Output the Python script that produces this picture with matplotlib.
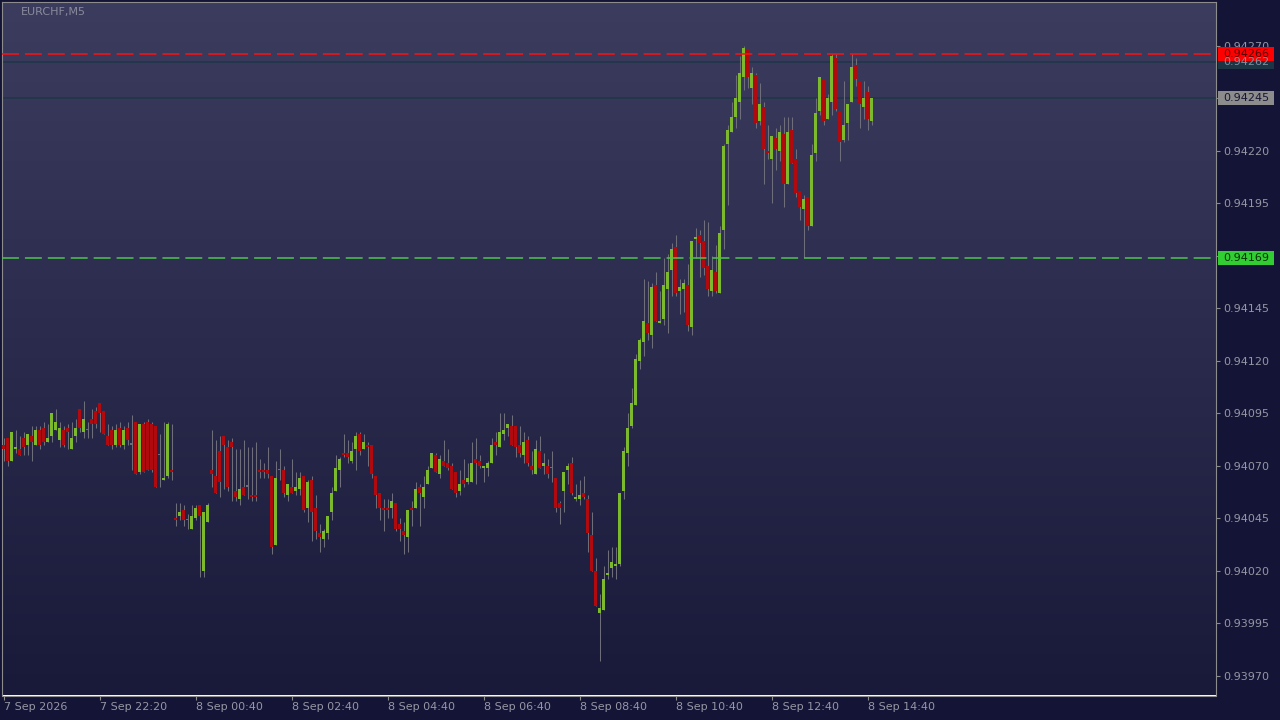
import numpy as np
import matplotlib.pyplot as plt
from matplotlib.patches import Rectangle
from matplotlib.colors import LinearSegmentedColormap
from matplotlib.transforms import blended_transform_factory

plt.rcParams['lines.scale_dashes'] = False

symbol = 'EURCHF,M5'

# M5 bars, oldest first
opens = [
    0.94080, 0.94083, 0.94072, 0.94078, 0.94078, 0.94083, 0.94080, 0.94084, 0.94080, 0.94087,
    0.94088, 0.94081, 0.94084, 0.94087, 0.94082, 0.94087, 0.94088, 0.94078, 0.94084, 0.94097,
    0.94086, 0.94087, 0.94092, 0.94096, 0.94100, 0.94096, 0.94084, 0.94087, 0.94080, 0.94088,
    0.94080, 0.94088, 0.94080, 0.94091, 0.94067, 0.94090, 0.94091, 0.94090, 0.94089, 0.94075,
    0.94063, 0.94065, 0.94068, 0.94045, 0.94046, 0.94049, 0.94044, 0.94040, 0.94045, 0.94051,
    0.94020, 0.94043, 0.94068, 0.94065, 0.94077, 0.94084, 0.94079, 0.94081, 0.94058, 0.94054,
    0.94060, 0.94060, 0.94056, 0.94056, 0.94068, 0.94068, 0.94068, 0.94065, 0.94032, 0.94068,
    0.94068, 0.94056, 0.94060, 0.94058, 0.94059, 0.94065, 0.94050, 0.94063, 0.94050, 0.94038,
    0.94035, 0.94038, 0.94048, 0.94058, 0.94068, 0.94076, 0.94076, 0.94072, 0.94078, 0.94085,
    0.94078, 0.94080, 0.94080, 0.94065, 0.94057, 0.94050, 0.94050, 0.94050, 0.94052, 0.94042,
    0.94039, 0.94036, 0.94050, 0.94050, 0.94060, 0.94055, 0.94061, 0.94069, 0.94075, 0.94066,
    0.94072, 0.94071, 0.94070, 0.94067, 0.94058, 0.94063, 0.94062, 0.94062, 0.94073, 0.94072,
    0.94069, 0.94069, 0.94071, 0.94081, 0.94079, 0.94085, 0.94088, 0.94089, 0.94089, 0.94080,
    0.94075, 0.94082, 0.94070, 0.94066, 0.94077, 0.94070, 0.94070, 0.94069, 0.94064, 0.94052,
    0.94058, 0.94068, 0.94071, 0.94054, 0.94054, 0.94057, 0.94054, 0.94037, 0.94020, 0.94000,
    0.94001, 0.94018, 0.94021, 0.94022, 0.94023, 0.94058, 0.94076, 0.94089, 0.94099, 0.94120,
    0.94129, 0.94138, 0.94132, 0.94156, 0.94138, 0.94140, 0.94154, 0.94163, 0.94174, 0.94153,
    0.94154, 0.94156, 0.94136, 0.94178, 0.94180, 0.94177, 0.94165, 0.94153, 0.94162, 0.94152,
    0.94182, 0.94223, 0.94229, 0.94236, 0.94243, 0.94255, 0.94268, 0.94250, 0.94256, 0.94234,
    0.94241, 0.94220, 0.94216, 0.94226, 0.94220, 0.94228, 0.94204, 0.94230, 0.94216, 0.94201,
    0.94192, 0.94198, 0.94184, 0.94219, 0.94239, 0.94254, 0.94235, 0.94243, 0.94264, 0.94239,
    0.94225, 0.94233, 0.94243, 0.94261, 0.94253, 0.94241, 0.94248, 0.94234,
]
highs = [
    0.94083, 0.94083, 0.94086, 0.94087, 0.94084, 0.94086, 0.94085, 0.94089, 0.94089, 0.94089,
    0.94091, 0.94090, 0.94095, 0.94097, 0.94091, 0.94089, 0.94090, 0.94091, 0.94092, 0.94097,
    0.94101, 0.94091, 0.94097, 0.94098, 0.94100, 0.94096, 0.94090, 0.94089, 0.94090, 0.94091,
    0.94089, 0.94091, 0.94094, 0.94091, 0.94090, 0.94091, 0.94092, 0.94091, 0.94089, 0.94085,
    0.94091, 0.94091, 0.94090, 0.94052, 0.94052, 0.94051, 0.94047, 0.94051, 0.94051, 0.94051,
    0.94048, 0.94052, 0.94087, 0.94082, 0.94084, 0.94084, 0.94082, 0.94083, 0.94078, 0.94078,
    0.94082, 0.94079, 0.94079, 0.94081, 0.94073, 0.94071, 0.94079, 0.94065, 0.94072, 0.94078,
    0.94070, 0.94061, 0.94073, 0.94067, 0.94067, 0.94065, 0.94063, 0.94065, 0.94056, 0.94042,
    0.94040, 0.94046, 0.94060, 0.94075, 0.94074, 0.94085, 0.94082, 0.94081, 0.94086, 0.94086,
    0.94085, 0.94081, 0.94080, 0.94065, 0.94057, 0.94054, 0.94054, 0.94057, 0.94052, 0.94045,
    0.94043, 0.94049, 0.94053, 0.94062, 0.94061, 0.94065, 0.94070, 0.94076, 0.94076, 0.94075,
    0.94082, 0.94078, 0.94071, 0.94067, 0.94068, 0.94073, 0.94071, 0.94081, 0.94083, 0.94075,
    0.94070, 0.94072, 0.94083, 0.94086, 0.94095, 0.94095, 0.94090, 0.94094, 0.94089, 0.94089,
    0.94086, 0.94084, 0.94077, 0.94082, 0.94084, 0.94076, 0.94073, 0.94077, 0.94064, 0.94053,
    0.94067, 0.94071, 0.94074, 0.94061, 0.94063, 0.94065, 0.94056, 0.94048, 0.94026, 0.94009,
    0.94022, 0.94030, 0.94031, 0.94031, 0.94057, 0.94079, 0.94095, 0.94107, 0.94123, 0.94131,
    0.94159, 0.94158, 0.94157, 0.94162, 0.94153, 0.94169, 0.94171, 0.94176, 0.94180, 0.94159,
    0.94159, 0.94166, 0.94177, 0.94183, 0.94182, 0.94187, 0.94186, 0.94170, 0.94175, 0.94184,
    0.94223, 0.94232, 0.94243, 0.94256, 0.94265, 0.94270, 0.94268, 0.94260, 0.94257, 0.94252,
    0.94243, 0.94232, 0.94227, 0.94231, 0.94232, 0.94236, 0.94236, 0.94236, 0.94221, 0.94201,
    0.94199, 0.94198, 0.94223, 0.94245, 0.94255, 0.94254, 0.94247, 0.94266, 0.94266, 0.94239,
    0.94253, 0.94242, 0.94266, 0.94264, 0.94253, 0.94253, 0.94251, 0.94245,
]
lows = [
    0.94072, 0.94070, 0.94072, 0.94076, 0.94075, 0.94075, 0.94075, 0.94072, 0.94080, 0.94078,
    0.94080, 0.94081, 0.94081, 0.94087, 0.94079, 0.94079, 0.94078, 0.94078, 0.94081, 0.94086,
    0.94083, 0.94083, 0.94083, 0.94088, 0.94086, 0.94085, 0.94080, 0.94078, 0.94079, 0.94079,
    0.94078, 0.94080, 0.94068, 0.94066, 0.94066, 0.94067, 0.94068, 0.94067, 0.94060, 0.94060,
    0.94063, 0.94064, 0.94063, 0.94041, 0.94044, 0.94041, 0.94040, 0.94040, 0.94044, 0.94017,
    0.94017, 0.94043, 0.94060, 0.94057, 0.94055, 0.94059, 0.94058, 0.94053, 0.94053, 0.94051,
    0.94056, 0.94054, 0.94053, 0.94053, 0.94064, 0.94064, 0.94064, 0.94028, 0.94032, 0.94063,
    0.94055, 0.94053, 0.94057, 0.94056, 0.94056, 0.94048, 0.94043, 0.94034, 0.94035, 0.94029,
    0.94031, 0.94035, 0.94044, 0.94058, 0.94060, 0.94074, 0.94071, 0.94071, 0.94068, 0.94075,
    0.94078, 0.94070, 0.94064, 0.94050, 0.94044, 0.94039, 0.94045, 0.94045, 0.94039, 0.94034,
    0.94028, 0.94029, 0.94041, 0.94050, 0.94041, 0.94050, 0.94061, 0.94069, 0.94067, 0.94064,
    0.94070, 0.94068, 0.94059, 0.94055, 0.94056, 0.94060, 0.94061, 0.94062, 0.94061, 0.94069,
    0.94062, 0.94065, 0.94071, 0.94075, 0.94079, 0.94082, 0.94084, 0.94080, 0.94074, 0.94074,
    0.94071, 0.94070, 0.94066, 0.94066, 0.94069, 0.94066, 0.94064, 0.94062, 0.94048, 0.94042,
    0.94048, 0.94061, 0.94056, 0.94053, 0.94051, 0.94054, 0.94029, 0.94020, 0.94003, 0.93977,
    0.94001, 0.94016, 0.94017, 0.94016, 0.94022, 0.94054, 0.94070, 0.94088, 0.94099, 0.94116,
    0.94122, 0.94130, 0.94126, 0.94139, 0.94138, 0.94137, 0.94133, 0.94151, 0.94151, 0.94142,
    0.94143, 0.94134, 0.94132, 0.94169, 0.94160, 0.94161, 0.94151, 0.94151, 0.94152, 0.94152,
    0.94173, 0.94194, 0.94229, 0.94231, 0.94235, 0.94249, 0.94250, 0.94242, 0.94231, 0.94232,
    0.94204, 0.94216, 0.94195, 0.94211, 0.94215, 0.94193, 0.94204, 0.94214, 0.94198, 0.94187,
    0.94169, 0.94182, 0.94184, 0.94215, 0.94237, 0.94232, 0.94235, 0.94237, 0.94239, 0.94215,
    0.94224, 0.94225, 0.94243, 0.94251, 0.94231, 0.94235, 0.94230, 0.94232,
]
closes = [
    0.94078, 0.94072, 0.94086, 0.94079, 0.94075, 0.94079, 0.94085, 0.94081, 0.94087, 0.94080,
    0.94081, 0.94083, 0.94095, 0.94091, 0.94088, 0.94080, 0.94086, 0.94083, 0.94088, 0.94088,
    0.94092, 0.94087, 0.94090, 0.94090, 0.94095, 0.94085, 0.94080, 0.94080, 0.94087, 0.94080,
    0.94087, 0.94082, 0.94080, 0.94066, 0.94090, 0.94067, 0.94068, 0.94068, 0.94060, 0.94075,
    0.94064, 0.94090, 0.94067, 0.94044, 0.94048, 0.94044, 0.94044, 0.94046, 0.94050, 0.94046,
    0.94048, 0.94051, 0.94066, 0.94057, 0.94062, 0.94080, 0.94060, 0.94079, 0.94055, 0.94059,
    0.94056, 0.94060, 0.94055, 0.94055, 0.94067, 0.94067, 0.94066, 0.94031, 0.94064, 0.94068,
    0.94057, 0.94061, 0.94057, 0.94060, 0.94064, 0.94049, 0.94062, 0.94048, 0.94039, 0.94036,
    0.94039, 0.94046, 0.94057, 0.94069, 0.94073, 0.94075, 0.94074, 0.94077, 0.94084, 0.94077,
    0.94081, 0.94079, 0.94066, 0.94056, 0.94050, 0.94049, 0.94049, 0.94053, 0.94040, 0.94040,
    0.94037, 0.94049, 0.94049, 0.94059, 0.94057, 0.94060, 0.94068, 0.94076, 0.94067, 0.94073,
    0.94070, 0.94069, 0.94059, 0.94057, 0.94061, 0.94061, 0.94064, 0.94071, 0.94071, 0.94070,
    0.94070, 0.94071, 0.94080, 0.94080, 0.94086, 0.94087, 0.94090, 0.94080, 0.94079, 0.94076,
    0.94081, 0.94071, 0.94068, 0.94078, 0.94069, 0.94071, 0.94066, 0.94069, 0.94050, 0.94050,
    0.94067, 0.94070, 0.94057, 0.94055, 0.94056, 0.94055, 0.94038, 0.94020, 0.94003, 0.94002,
    0.94016, 0.94019, 0.94024, 0.94023, 0.94057, 0.94077, 0.94088, 0.94100, 0.94121, 0.94130,
    0.94139, 0.94133, 0.94155, 0.94139, 0.94139, 0.94156, 0.94162, 0.94173, 0.94152, 0.94155,
    0.94157, 0.94137, 0.94177, 0.94179, 0.94176, 0.94164, 0.94154, 0.94163, 0.94153, 0.94181,
    0.94222, 0.94230, 0.94236, 0.94245, 0.94257, 0.94269, 0.94255, 0.94257, 0.94233, 0.94242,
    0.94221, 0.94219, 0.94227, 0.94221, 0.94229, 0.94204, 0.94229, 0.94214, 0.94200, 0.94193,
    0.94197, 0.94184, 0.94218, 0.94238, 0.94255, 0.94234, 0.94245, 0.94265, 0.94240, 0.94224,
    0.94232, 0.94242, 0.94260, 0.94254, 0.94242, 0.94245, 0.94235, 0.94245,
]

time_labels = ['7 Sep 2026', '7 Sep 22:20', '8 Sep 00:40', '8 Sep 02:40', '8 Sep 04:40',
               '8 Sep 06:40', '8 Sep 08:40', '8 Sep 10:40', '8 Sep 12:40', '8 Sep 14:40']
bars_per_label = 24

price_ticks = [0.93970, 0.93995, 0.94020, 0.94045, 0.94070, 0.94095, 0.94120,
               0.94145, 0.94170, 0.94195, 0.94220, 0.94245, 0.94270]

high_level = 0.94266    # red dashed line
ask_level = 0.94262
bid_level = 0.94245
low_level = 0.94169     # green dashed line

bull = '#7db92d'
bear = '#b00a0f'
wick = '#6e6e7a'
txt = '#9696a4'

o = np.array(opens)
h = np.array(highs)
l = np.array(lows)
c = np.array(closes)
x = np.arange(len(o))

fig = plt.figure(figsize=(12.8, 7.2), dpi=100, facecolor='#141436')
ax = fig.add_axes([2 / 1280, 24.5 / 720, 1214 / 1280, 693.5 / 720])

x0, x1 = -0.42, 303.08
y0, y1 = 0.939605, 0.942908

# background gradient
cmap = LinearSegmentedColormap.from_list('bg', ['#19193a', '#3c3c5f'])
grad = np.linspace(0, 1, 256).reshape(-1, 1)
ax.imshow(grad, extent=[x0, x1, y0, y1], origin='lower', aspect='auto', cmap=cmap, zorder=0)

# candles
ax.vlines(x, l, h, color=wick, lw=0.75, zorder=2)
bottoms = np.minimum(o, c)
heights = np.maximum(np.abs(c - o), 0.0000055)
cols = np.where(c > o, bull, np.where(c < o, bear, wick))
ax.bar(x, heights, bottom=bottoms, width=0.75, color=cols, linewidth=0, zorder=3)

# level lines
ax.axhline(ask_level, color='#1f3648', lw=1.1, zorder=1.5)
ax.axhline(bid_level, color='#1f3648', lw=1.1, zorder=1.5)
ax.axhline(high_level, color='#ff1010', lw=1.1, dashes=(12.2, 4.3), zorder=4)
ax.axhline(low_level, color='#4cc44c', lw=1.1, dashes=(12.2, 4.3), zorder=4)

ax.set_xlim(x0, x1)
ax.set_ylim(y0, y1)

# axes styling
for s in ax.spines.values():
    s.set_color('#8c8c8c')
    s.set_linewidth(0.8)
ax.yaxis.tick_right()
ax.set_yticks(price_ticks)
ax.set_yticklabels([f'{v:.5f}' for v in price_ticks])
ax.set_xticks(range(0, bars_per_label * len(time_labels), bars_per_label))
ax.set_xticklabels(time_labels, ha='left')
ax.tick_params(colors='#8c8c8c', labelcolor=txt, labelsize=8, length=3, width=0.8, pad=2)

# price labels on the right scale
trans = blended_transform_factory(ax.transAxes, ax.transData)
bx, bw, bh = 1.0016, 0.0461, 0.0000667
tags = [(ask_level, '#1c3444', '#7f8f9f'),
        (high_level, '#ff0000', '#4a0000'),
        (bid_level, '#8c8c8c', '#161636'),
        (low_level, '#32cd32', '#0a300a')]
for val, face, fg in tags:
    ax.add_patch(Rectangle((bx, val - bh / 2), bw, bh, transform=trans,
                           facecolor=face, edgecolor='none', clip_on=False, zorder=6))
    ax.text(bx + bw / 2, val, f'{val:.5f}', transform=trans, ha='center', va='center',
            fontsize=8, color=fg, clip_on=False, zorder=7)

fig.text(21 / 1280, 1 - 12 / 720, symbol, fontsize=8, color='#8a8a9c', va='center')

fig.savefig('out.png', dpi=100, facecolor=fig.get_facecolor())
